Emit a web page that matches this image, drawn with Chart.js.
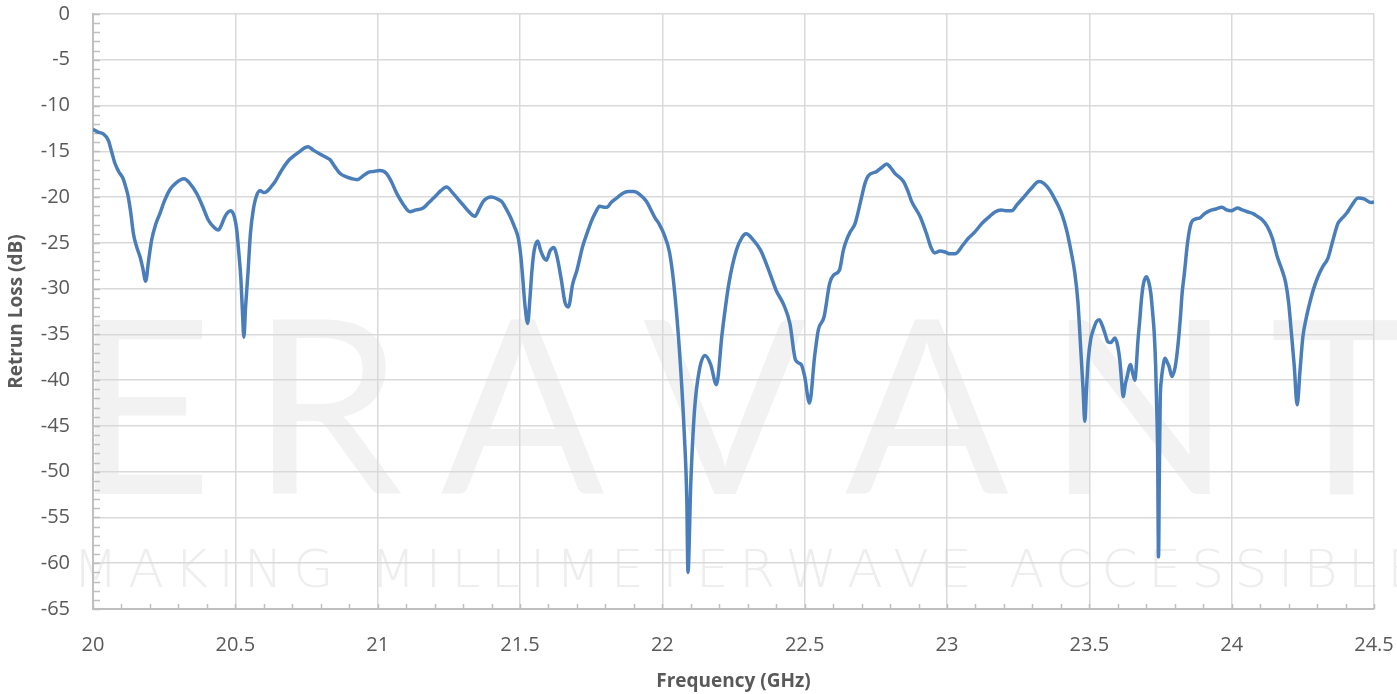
<!DOCTYPE html>
<html>
<head>
<meta charset="utf-8">
<script src="https://cdn.jsdelivr.net/npm/chart.js@4"></script>
<style>
  body { margin: 0; background: #fff; }
  #wrap { width: 1397px; height: 694px; }
</style>
</head>
<body>
<div id="wrap"><canvas id="rlChart" width="1397" height="694"></canvas></div>
<script>
const freqGHz = [
  20.000, 20.018, 20.036, 20.054, 20.065, 20.077, 20.090, 20.106, 20.115, 20.124,
  20.133, 20.142, 20.155, 20.165, 20.175, 20.185, 20.195, 20.206, 20.220, 20.235,
  20.250, 20.270, 20.290, 20.320, 20.340, 20.364, 20.385, 20.405, 20.425, 20.440,
  20.452, 20.464, 20.484, 20.497, 20.505, 20.512, 20.519, 20.525, 20.530, 20.536,
  20.545, 20.553, 20.563, 20.575, 20.587, 20.600, 20.610, 20.625, 20.640, 20.660,
  20.690, 20.710, 20.727, 20.745, 20.756, 20.775, 20.797, 20.815, 20.832, 20.850,
  20.867, 20.890, 20.910, 20.928, 20.948, 20.967, 20.985, 21.008, 21.030, 21.048,
  21.067, 21.090, 21.113, 21.135, 21.160, 21.180, 21.200, 21.222, 21.242, 21.265,
  21.290, 21.315, 21.342, 21.355, 21.370, 21.385, 21.400, 21.420, 21.436, 21.450,
  21.465, 21.480, 21.494, 21.503, 21.510, 21.518, 21.527, 21.535, 21.542, 21.550,
  21.562, 21.572, 21.583, 21.593, 21.605, 21.618, 21.630, 21.645, 21.658, 21.670,
  21.685, 21.700, 21.720, 21.735, 21.750, 21.765, 21.780, 21.795, 21.806, 21.820,
  21.840, 21.860, 21.880, 21.900, 21.920, 21.945, 21.960, 21.975, 21.990, 22.005,
  22.025, 22.040, 22.060, 22.077, 22.086, 22.090, 22.100, 22.113, 22.130, 22.150,
  22.170, 22.190, 22.210, 22.234, 22.260, 22.280, 22.294, 22.320, 22.345, 22.374,
  22.400, 22.427, 22.448, 22.468, 22.488, 22.500, 22.517, 22.535, 22.548, 22.568,
  22.588, 22.602, 22.622, 22.636, 22.647, 22.660, 22.677, 22.700, 22.712, 22.723,
  22.753, 22.770, 22.788, 22.800, 22.817, 22.847, 22.862, 22.876, 22.905, 22.928,
  22.945, 22.957, 22.975, 22.993, 23.010, 23.028, 23.057, 23.075, 23.098, 23.125,
  23.150, 23.170, 23.190, 23.210, 23.227, 23.247, 23.267, 23.295, 23.323, 23.340,
  23.360, 23.375, 23.390, 23.405, 23.420, 23.435, 23.449, 23.460, 23.470, 23.478,
  23.484, 23.490, 23.496, 23.505, 23.514, 23.525, 23.535, 23.545, 23.555, 23.565,
  23.575, 23.590, 23.600, 23.607, 23.613, 23.619, 23.626, 23.633, 23.640, 23.645,
  23.652, 23.660, 23.665, 23.670, 23.677, 23.683, 23.690, 23.700, 23.708, 23.716,
  23.722, 23.728, 23.733, 23.736, 23.740, 23.743, 23.746, 23.749, 23.753, 23.757,
  23.766, 23.773, 23.780, 23.790, 23.800, 23.807, 23.815, 23.820, 23.826, 23.834,
  23.845, 23.857, 23.872, 23.887, 23.905, 23.922, 23.945, 23.966, 23.982, 23.998,
  24.020, 24.037, 24.055, 24.075, 24.090, 24.108, 24.125, 24.143, 24.160, 24.175,
  24.190, 24.200, 24.210, 24.220, 24.230, 24.240, 24.250, 24.262, 24.274, 24.288,
  24.303, 24.320, 24.338, 24.355, 24.373, 24.388, 24.403, 24.420, 24.444, 24.465,
  24.490, 24.500
];
const returnLossDb = [
  -12.6, -12.9, -13.1, -13.8, -15.0, -16.3, -17.2, -18.0, -18.9, -20.0,
  -21.8, -24.0, -25.6, -26.5, -27.8, -29.2, -27.0, -24.7, -23.0, -21.8,
  -20.5, -19.2, -18.5, -18.0, -18.5, -19.6, -21.0, -22.5, -23.3, -23.6,
  -23.0, -22.1, -21.5, -22.2, -23.6, -26.0, -28.7, -32.5, -35.3, -32.0,
  -28.0, -24.0, -21.4, -19.8, -19.3, -19.5, -19.4, -18.9, -18.3, -17.2,
  -15.9, -15.4, -15.0, -14.6, -14.5, -14.9, -15.3, -15.6, -15.9, -16.7,
  -17.4, -17.8, -18.0, -18.1, -17.7, -17.3, -17.2, -17.1, -17.4, -18.3,
  -19.6, -20.8, -21.6, -21.4, -21.2, -20.6, -20.0, -19.3, -18.9, -19.6,
  -20.5, -21.4, -22.1, -21.4, -20.5, -20.1, -20.0, -20.2, -20.5, -21.2,
  -22.1, -23.2, -24.5, -26.5, -29.0, -32.0, -33.8, -31.0, -28.0, -25.8,
  -24.8, -25.8, -26.6, -26.9, -25.9, -25.5, -26.5, -29.0, -31.5, -32.0,
  -29.5, -28.0, -25.4, -24.0, -22.7, -21.7, -21.0, -21.1, -21.1, -20.6,
  -20.1, -19.6, -19.4, -19.4, -19.7, -20.5, -21.4, -22.3, -23.0, -24.0,
  -26.0, -29.4, -36.7, -45.8, -53.1, -61.0, -51.2, -43.3, -38.9, -37.3,
  -38.3, -40.5, -34.9, -29.4, -25.8, -24.4, -24.0, -24.7, -25.8, -28.0,
  -30.2, -31.8, -33.8, -37.8, -38.3, -39.6, -42.5, -37.4, -34.5, -33.1,
  -29.4, -28.5, -28.0, -25.8, -24.7, -23.8, -22.9, -20.0, -18.5, -17.7,
  -17.2, -16.8, -16.4, -16.7, -17.4, -18.3, -19.3, -20.5, -22.1, -24.0,
  -25.6, -26.1, -25.9, -26.0, -26.2, -26.2, -25.2, -24.5, -23.8, -22.8,
  -22.1, -21.6, -21.4, -21.5, -21.5, -20.8, -20.1, -19.1, -18.3, -18.5,
  -19.2, -20.0, -20.9, -22.0, -23.6, -25.8, -28.3, -31.5, -36.7, -41.0,
  -44.5, -41.0, -37.8, -35.5, -34.5, -33.6, -33.4, -34.0, -34.9, -35.8,
  -35.9, -35.4, -36.3, -37.8, -40.0, -41.8, -40.5, -39.6, -38.6, -38.3,
  -39.2, -40.0, -38.5, -36.0, -33.5, -31.2, -29.5, -28.7, -29.2, -30.5,
  -32.5, -34.9, -38.5, -42.2, -48.0, -59.3, -50.0, -42.2, -40.0, -38.9,
  -37.6, -38.0, -38.5, -39.6, -38.8, -37.4, -35.0, -33.1, -30.5, -28.3,
  -25.0, -22.9, -22.4, -22.3, -21.8, -21.5, -21.3, -21.1, -21.4, -21.5,
  -21.2, -21.4, -21.6, -21.8, -22.1, -22.5, -23.2, -24.5, -26.5, -27.8,
  -29.4, -31.5, -34.9, -38.5, -42.7, -39.0, -35.3, -33.2, -31.6, -30.0,
  -28.7, -27.6, -26.7, -24.8, -22.9, -22.3, -21.8, -21.0, -20.1, -20.2,
  -20.6, -20.5
];

const xMin = 20, xMax = 24.5, xStep = 0.5, xMinorStep = 0.1;
const yMin = -65, yMax = 0, yStep = 5, yMinorStep = 1;

const watermarkBig = 'ERAVANT';
const watermarkSmall = 'MAKING MILLIMETERWAVE ACCESSIBLE';

// spread characters evenly between x0 and x1
function spreadText(ctx, text, x0, x1, y) {
  const widths = [...text].map(c => ctx.measureText(c).width);
  const total = widths.reduce((a, b) => a + b, 0);
  const gap = (x1 - x0 - total) / (text.length - 1);
  let x = x0;
  [...text].forEach((c, i) => {
    ctx.fillText(c, x, y);
    x += widths[i] + gap;
  });
}

const watermark = {
  id: 'watermark',
  beforeDraw(chart) {
    const ctx = chart.ctx;
    ctx.save();
    ctx.textBaseline = 'alphabetic';
    ctx.textAlign = 'left';
    ctx.fillStyle = '#f2f2f2';
    ctx.font = '242px Lato, "Open Sans", sans-serif';
    spreadText(ctx, watermarkBig, 73, 1413, 494);
    ctx.fillStyle = '#eeeeee';
    ctx.font = '200 52px "DejaVu Sans", sans-serif';
    spreadText(ctx, watermarkSmall, 73, 1420, 587);
    ctx.restore();
  }
};

const minorTicks = {
  id: 'minorTicks',
  beforeDatasetsDraw(chart) {
    const ctx = chart.ctx;
    const xs = chart.scales.x, ys = chart.scales.y;
    const area = chart.chartArea;
    ctx.save();
    ctx.strokeStyle = '#bfbfbf';
    ctx.lineWidth = 1.5;
    ctx.beginPath();
    for (let v = yMin; v <= yMax + 1e-9; v += yMinorStep) {
      const py = Math.round(ys.getPixelForValue(v)) + 0.5;
      ctx.moveTo(area.left, py);
      ctx.lineTo(area.left + 7, py);
    }
    for (let i = 0; i <= Math.round((xMax - xMin) / xMinorStep); i++) {
      const px = Math.round(xs.getPixelForValue(xMin + i * xMinorStep)) + 0.5;
      ctx.moveTo(px, area.bottom);
      ctx.lineTo(px, area.bottom - 5);
    }
    ctx.stroke();
    ctx.restore();
  }
};

const points = freqGHz.map((f, i) => ({ x: f, y: returnLossDb[i] }));

const tickFont = { family: '"Open Sans", sans-serif', size: 20 };
const titleFont = { family: '"Open Sans", sans-serif', size: 19, weight: 'bold' };
const plainNumber = v => String(Number(v.toFixed(1)));

new Chart(document.getElementById('rlChart').getContext('2d'), {
  type: 'line',
  data: {
    datasets: [{
      label: 'Return Loss',
      data: points,
      borderColor: '#4a7ebb',
      borderWidth: 3.5,
      pointRadius: 0,
      fill: false,
      cubicInterpolationMode: 'monotone'
    }]
  },
  options: {
    responsive: false,
    animation: false,
    layout: { padding: { top: 14, right: 23, left: 0, bottom: 0 } },
    plugins: {
      legend: { display: false },
      tooltip: { enabled: false }
    },
    scales: {
      x: {
        type: 'linear',
        min: xMin,
        max: xMax,
        afterFit(scale) {
          scale.height = 85;
          scale.paddingLeft = 0;
          scale.paddingRight = 0;
        },
        ticks: { stepSize: xStep, color: '#595959', font: tickFont, padding: 24, maxRotation: 0, callback: plainNumber },
        grid: { color: '#d9d9d9', lineWidth: 1.5, drawTicks: false },
        border: { color: '#bfbfbf', width: 2 },
        title: { display: true, text: 'Frequency (GHz)', color: '#595959', font: titleFont, padding: { top: 0, bottom: 1 } }
      },
      y: {
        min: yMin,
        max: yMax,
        afterFit(scale) {
          scale.width = 93;
          scale.paddingTop = 0;
          scale.paddingBottom = 0;
        },
        ticks: { stepSize: yStep, color: '#595959', font: tickFont, padding: 23, callback: plainNumber },
        grid: { color: '#d9d9d9', lineWidth: 1.5, drawTicks: false },
        border: { color: '#bfbfbf', width: 2 },
        title: { display: true, text: 'Retrun Loss (dB)', color: '#595959', font: titleFont, padding: { top: 5, bottom: 0 } }
      }
    }
  },
  plugins: [watermark, minorTicks]
});
</script>
</body>
</html>
